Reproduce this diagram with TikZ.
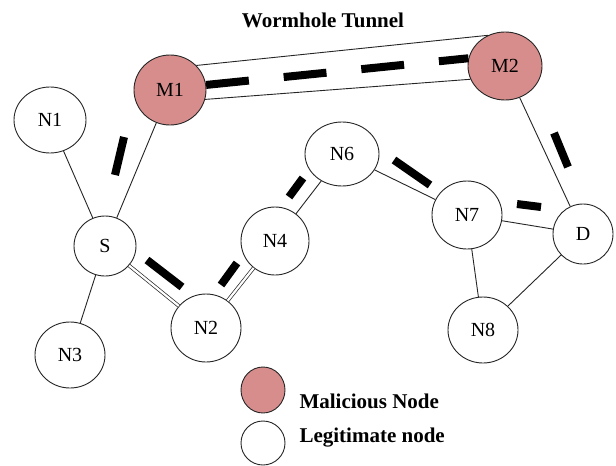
\documentclass[tikz,border=0pt]{standalone}
\usepackage{fontspec}
\setmainfont{Liberation Serif}
\usetikzlibrary{shapes.geometric}
\definecolor{malred}{RGB}{216,141,141}
\tikzset{
  nd/.style={ellipse, draw=black!85, line width=0.9pt, fill=white, inner sep=0pt, font=\fontsize{20}{20}\selectfont},
  mal/.style={nd, fill=malred},
  edge/.style={draw=black!85, line width=0.9pt},
  dbl/.style={draw=black!85, line width=0.7pt, double=white, double distance=2.2pt},
  routemark/.style={line width=8pt, black},
  lbl/.style={font=\fontsize{21}{21}\selectfont\bfseries, anchor=west}
}
\begin{document}
\begin{tikzpicture}[x=1pt,y=-1pt]
\useasboundingbox[fill=white] (0,0) rectangle (616,466);
% nodes
\node[mal, minimum width=72pt, minimum height=70pt] (M1) at (170,90) {M1};
\node[mal, minimum width=74pt, minimum height=68pt] (M2) at (505,66) {M2};
\node[nd, minimum width=72pt, minimum height=66pt] (N1) at (50,120) {N1};
\node[nd, minimum width=62pt, minimum height=60pt] (S) at (105,246) {S};
\node[nd, minimum width=70pt, minimum height=68pt] (N2) at (206,328) {N2};
\node[nd, minimum width=70pt, minimum height=66pt] (N3) at (70,355) {N3};
\node[nd, minimum width=68pt, minimum height=68pt] (N4) at (275,241) {N4};
\node[nd, minimum width=74pt, minimum height=64pt] (N6) at (342,154) {N6};
\node[nd, minimum width=70pt, minimum height=68pt] (N7) at (467,215) {N7};
\node[nd, minimum width=60pt, minimum height=60pt] (D) at (583,234) {D};
\node[nd, minimum width=70pt, minimum height=66pt] (N8) at (483,330) {N8};
% title
\node[font=\fontsize{21}{21}\selectfont\bfseries] (title) at (323,20) {Wormhole Tunnel};
% edges
\draw[edge] (N1) -- (S);
\draw[edge] (S) -- (N3);
\draw[edge] (S) -- (M1);
\draw[dbl] (S) -- (N2);
\draw[dbl] (N2) -- (N4);
\draw[edge] (N4) -- (N6);
\draw[edge] (N6) -- (N7);
\draw[edge] (N7) -- (D);
\draw[edge] (N7) -- (N8);
\draw[edge] (N8) -- (D);
\draw[edge] (M2) -- (D);
% wormhole tunnel
\draw[edge] (M1.43) -- (M2.119);
\draw[edge] (M1.-15) -- (M2.201);
\draw[line width=8pt, dash pattern=on 43pt off 35pt] (M1.8) -- (M2.168);
% thick route marks
\draw[routemark] (115,175) -- (124,137);
\draw[routemark] (147,260) -- (182,287);
\draw[routemark] (221,285) -- (237,263);
\draw[routemark] (289,197) -- (303,178);
\draw[routemark] (394,160) -- (430,185);
\draw[routemark] (517,204) -- (541,207);
\draw[routemark] (554,133) -- (568,167);
% legend
\node[mal, minimum width=44pt, minimum height=46pt] (L1) at (263,390) {};
\node[nd, minimum width=44pt, minimum height=44pt] (L2) at (263,443) {};
\node[lbl] (T1) at (296,401) {Malicious Node};
\node[lbl] (T2) at (296,438) {Legitimate node};
\end{tikzpicture}
\end{document}
